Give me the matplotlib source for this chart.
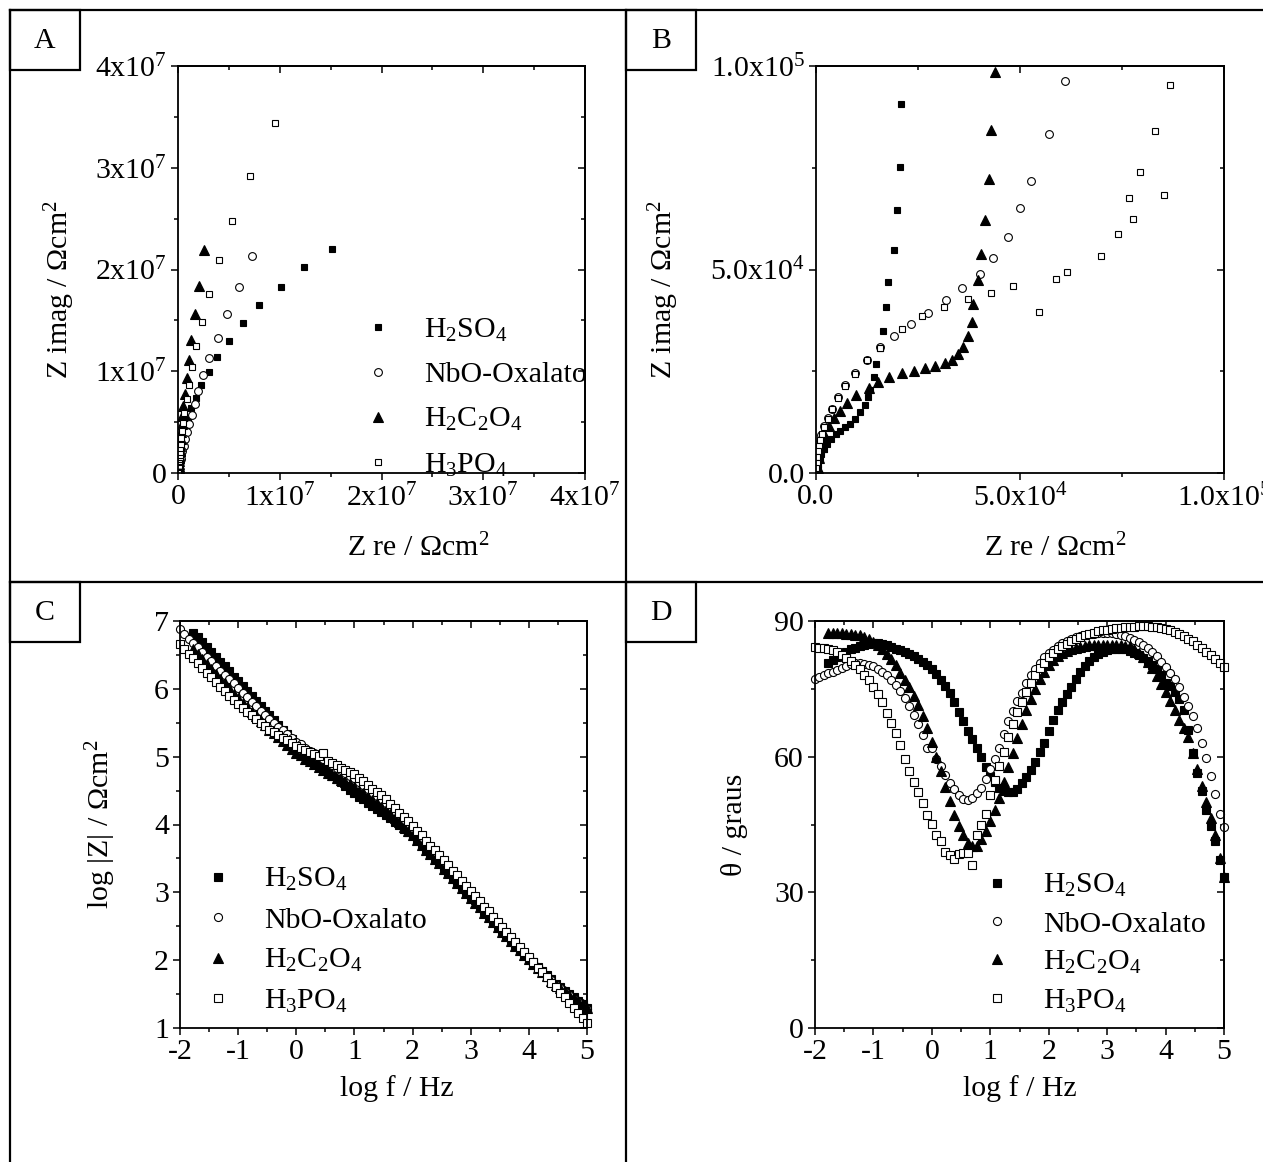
import matplotlib
matplotlib.use("Agg")
import matplotlib.pyplot as plt
from matplotlib.lines import Line2D
from matplotlib.patches import Rectangle
from matplotlib.ticker import MultipleLocator, FuncFormatter

plt.rcParams['font.family'] = ['Liberation Serif', 'DejaVu Serif']
plt.rcParams['mathtext.fontset'] = 'custom'
plt.rcParams['mathtext.rm'] = 'Liberation Serif'
plt.rcParams['mathtext.it'] = 'Liberation Serif:italic'
plt.rcParams['mathtext.bf'] = 'Liberation Serif:bold'
plt.rcParams['mathtext.default'] = 'regular'
plt.rcParams['axes.unicode_minus'] = False

# ---------------- data ----------------
labels = ["H$_2$SO$_4$", "NbO-Oxalato", "H$_2$C$_2$O$_4$", "H$_3$PO$_4$"]

# Nyquist data (Ohm cm^2): large values (panel A) followed by small values (panel B)
h2so4_zre = [1.51e7, 1.238e7, 1.01e7, 0.797e7, 0.637e7, 0.497e7, 0.385e7, 0.30e7, 0.225e7, 0.173e7,
             0.131e7, 0.098e7, 0.072e7, 0.053e7, 0.039e7, 0.029e7, 0.021e7, 0.015e7, 0.011e7, 0.008e7,
             0.006e7, 0.0045e7, 0.0035e7, 0.003e7, 0.0027e7, 0.0025e7,
             2.09e4, 2.05e4, 1.98e4, 1.90e4, 1.77e4, 1.71e4, 1.63e4, 1.57e4, 1.48e4, 1.41e4, 1.33e4, 1.27e4,
             1.20e4, 1.08e4, 0.96e4, 0.84e4, 0.72e4, 0.60e4, 0.48e4, 0.37e4, 0.27e4, 0.19e4, 0.13e4, 0.09e4,
             0.06e4, 0.04e4, 0.03e4]
h2so4_zim = [2.20e7, 2.02e7, 1.83e7, 1.65e7, 1.47e7, 1.295e7, 1.14e7, 0.99e7, 0.861e7, 0.74e7,
             0.634e7, 0.545e7, 0.46e7, 0.385e7, 0.32e7, 0.26e7, 0.21e7, 0.165e7, 0.13e7, 0.10e7,
             0.075e7, 0.055e7, 0.04e7, 0.028e7, 0.019e7, 0.013e7,
             9.06e4, 7.53e4, 6.46e4, 5.49e4, 4.70e4, 4.07e4, 3.50e4, 3.07e4, 2.68e4, 2.36e4, 2.05e4, 1.86e4,
             1.68e4, 1.49e4, 1.33e4, 1.21e4, 1.12e4, 1.03e4, 0.95e4, 0.84e4, 0.72e4, 0.59e4, 0.46e4, 0.34e4,
             0.22e4, 0.11e4, 0.04e4]

nbo_zre = [0.729e7, 0.60e7, 0.483e7, 0.389e7, 0.307e7, 0.248e7, 0.199e7, 0.163e7, 0.134e7, 0.111e7,
           0.09e7, 0.07e7, 0.055e7, 0.043e7, 0.033e7, 0.025e7, 0.019e7, 0.014e7, 0.010e7, 0.008e7,
           0.0065e7,
           6.11e4, 5.72e4, 5.28e4, 5.00e4, 4.71e4, 4.34e4, 4.02e4, 3.58e4, 3.18e4, 2.75e4, 2.33e4, 1.92e4,
           1.58e4, 1.25e4, 0.95e4, 0.70e4, 0.53e4, 0.39e4, 0.29e4, 0.20e4, 0.13e4, 0.08e4, 0.05e4, 0.025e4,
           0.01e4]
nbo_zim = [2.13e7, 1.825e7, 1.564e7, 1.33e7, 1.13e7, 0.96e7, 0.81e7, 0.683e7, 0.571e7, 0.478e7,
           0.40e7, 0.33e7, 0.27e7, 0.22e7, 0.175e7, 0.14e7, 0.11e7, 0.085e7, 0.065e7, 0.048e7,
           0.035e7,
           9.63e4, 8.34e4, 7.17e4, 6.51e4, 5.80e4, 5.29e4, 4.88e4, 4.55e4, 4.24e4, 3.94e4, 3.65e4, 3.36e4,
           3.09e4, 2.78e4, 2.455e4, 2.15e4, 1.86e4, 1.58e4, 1.35e4, 1.15e4, 0.94e4, 0.74e4, 0.53e4, 0.33e4,
           0.16e4]

h2c2o4_zre = [0.258e7, 0.206e7, 0.163e7, 0.131e7, 0.105e7, 0.085e7, 0.069e7, 0.052e7, 0.042e7, 0.036e7,
              0.030e7, 0.025e7, 0.020e7, 0.016e7, 0.013e7, 0.011e7, 0.009e7, 0.0075e7, 0.0065e7, 0.006e7,
              0.0055e7, 0.005e7,
              4.376e4, 4.286e4, 4.245e4, 4.13e4, 4.05e4, 3.98e4, 3.85e4, 3.82e4, 3.72e4, 3.61e4, 3.49e4,
              3.33e4, 3.16e4, 2.92e4, 2.67e4, 2.41e4, 2.12e4, 1.80e4, 1.51e4, 1.29e4, 0.99e4, 0.76e4,
              0.60e4, 0.45e4, 0.33e4, 0.23e4, 0.15e4, 0.08e4, 0.04e4]
h2c2o4_zim = [2.19e7, 1.84e7, 1.56e7, 1.31e7, 1.11e7, 0.93e7, 0.78e7, 0.66e7, 0.56e7, 0.48e7,
              0.40e7, 0.33e7, 0.27e7, 0.22e7, 0.18e7, 0.145e7, 0.115e7, 0.09e7, 0.07e7, 0.053e7,
              0.04e7, 0.03e7,
              9.86e4, 8.43e4, 7.226e4, 6.22e4, 5.38e4, 4.75e4, 4.15e4, 3.72e4, 3.37e4, 3.09e4, 2.92e4,
              2.78e4, 2.70e4, 2.635e4, 2.58e4, 2.51e4, 2.455e4, 2.36e4, 2.24e4, 2.09e4, 1.92e4, 1.72e4,
              1.53e4, 1.35e4, 1.15e4, 0.90e4, 0.65e4, 0.37e4, 0.12e4]

h3po4_zre = [0.951e7, 0.706e7, 0.53e7, 0.40e7, 0.30e7, 0.24e7, 0.176e7, 0.137e7, 0.108e7, 0.085e7,
             0.062e7, 0.046e7, 0.04e7, 0.033e7, 0.028e7, 0.024e7, 0.021e7, 0.018e7, 0.016e7, 0.014e7,
             0.013e7, 0.012e7, 0.011e7,
             8.68e4, 8.32e4, 7.95e4, 7.66e4, 8.52e4, 7.76e4, 7.39e4, 6.99e4, 6.14e4, 5.89e4, 5.46e4,
             4.83e4, 4.29e4, 3.72e4, 3.14e4, 2.60e4, 2.12e4, 1.58e4, 1.24e4, 0.95e4, 0.70e4, 0.53e4,
             0.38e4, 0.29e4, 0.20e4, 0.14e4, 0.11e4, 0.07e4, 0.05e4, 0.03e4, 0.02e4, 0.01e4]
h3po4_zim = [3.44e7, 2.92e7, 2.48e7, 2.09e7, 1.755e7, 1.485e7, 1.245e7, 1.04e7, 0.864e7, 0.726e7,
             0.594e7, 0.495e7, 0.41e7, 0.34e7, 0.28e7, 0.23e7, 0.185e7, 0.15e7, 0.12e7, 0.095e7,
             0.075e7, 0.058e7, 0.045e7,
             9.525e4, 8.40e4, 7.40e4, 6.76e4, 6.82e4, 6.24e4, 5.87e4, 5.32e4, 4.935e4, 4.76e4, 3.96e4,
             4.59e4, 4.43e4, 4.27e4, 4.09e4, 3.85e4, 3.55e4, 3.07e4, 2.77e4, 2.44e4, 2.13e4, 1.84e4,
             1.57e4, 1.33e4, 1.13e4, 0.97e4, 0.82e4, 0.67e4, 0.53e4, 0.39e4, 0.25e4, 0.12e4]

# Bode data: log f (Hz) grid
logf = [-2.000, -1.923, -1.846, -1.769, -1.692, -1.615, -1.538, -1.462, -1.385, -1.308, -1.231, -1.154, -1.077,
        -1.000, -0.923, -0.846, -0.769, -0.692, -0.615, -0.538, -0.462, -0.385, -0.308, -0.231, -0.154, -0.077,
        0.000, 0.077, 0.154, 0.231, 0.308, 0.385, 0.462, 0.538, 0.615, 0.692, 0.769, 0.846, 0.923,
        1.000, 1.077, 1.154, 1.231, 1.308, 1.385, 1.462, 1.538, 1.615, 1.692, 1.769, 1.846, 1.923,
        2.000, 2.077, 2.154, 2.231, 2.308, 2.385, 2.462, 2.538, 2.615, 2.692, 2.769, 2.846, 2.923,
        3.000, 3.077, 3.154, 3.231, 3.308, 3.385, 3.462, 3.538, 3.615, 3.692, 3.769, 3.846, 3.923,
        4.000, 4.077, 4.154, 4.231, 4.308, 4.385, 4.462, 4.538, 4.615, 4.692, 4.769, 4.846, 4.923,
        5.000]
logf_short = logf[3:]   # H2SO4 and H2C2O4 start at lower frequency index 3

# log |Z| (Ohm cm^2)
h2so4_logz = [6.83, 6.76, 6.69, 6.62, 6.54, 6.47, 6.40, 6.33, 6.26, 6.18,
              6.11, 6.04, 5.97, 5.89, 5.82, 5.75, 5.68, 5.61, 5.54, 5.47, 5.40, 5.33, 5.26,
              5.19, 5.13, 5.07, 5.01, 4.95, 4.89, 4.83, 4.77, 4.72, 4.67, 4.62, 4.57, 4.51,
              4.46, 4.41, 4.37, 4.32, 4.28, 4.23, 4.18, 4.14, 4.09, 4.04, 3.99, 3.94, 3.89,
              3.84, 3.77, 3.71, 3.64, 3.58, 3.51, 3.44, 3.38, 3.30, 3.23, 3.16, 3.09, 3.02,
              2.95, 2.88, 2.81, 2.73, 2.66, 2.59, 2.52, 2.45, 2.38, 2.31, 2.24, 2.17, 2.10,
              2.03, 1.97, 1.90, 1.84, 1.78, 1.72, 1.65, 1.60, 1.55, 1.50, 1.45, 1.40, 1.35,
              1.30]
nbo_logz = [6.88, 6.81, 6.74, 6.68, 6.61, 6.54, 6.47, 6.41, 6.34, 6.27, 6.21, 6.14, 6.08,
            6.01, 5.94, 5.88, 5.81, 5.75, 5.68, 5.61, 5.55, 5.50, 5.44, 5.39, 5.33, 5.28,
            5.22, 5.18, 5.13, 5.09, 5.05, 5.01, 4.96, 4.92, 4.88, 4.84, 4.80, 4.76, 4.72,
            4.68, 4.63, 4.58, 4.52, 4.47, 4.42, 4.37, 4.31, 4.24, 4.18, 4.11, 4.05, 3.99,
            3.92, 3.85, 3.78, 3.70, 3.63, 3.56, 3.49, 3.41, 3.34, 3.27, 3.19, 3.12, 3.04,
            2.97, 2.90, 2.82, 2.75, 2.68, 2.60, 2.53, 2.46, 2.38, 2.31, 2.24, 2.17, 2.10,
            2.03, 1.97, 1.90, 1.84, 1.77, 1.71, 1.64, 1.59, 1.53, 1.48, 1.43, 1.38, 1.33,
            1.28]
h2c2o4_logz = [6.58, 6.51, 6.44, 6.37, 6.29, 6.22, 6.15, 6.08, 6.01, 5.93,
               5.86, 5.79, 5.73, 5.66, 5.60, 5.53, 5.46, 5.40, 5.35, 5.29, 5.23, 5.17, 5.12,
               5.06, 5.02, 4.97, 4.93, 4.89, 4.85, 4.80, 4.76, 4.73, 4.69, 4.66, 4.62, 4.59,
               4.55, 4.50, 4.46, 4.41, 4.36, 4.31, 4.26, 4.21, 4.15, 4.09, 4.03, 3.96, 3.90,
               3.84, 3.77, 3.70, 3.63, 3.56, 3.49, 3.43, 3.35, 3.28, 3.21, 3.14, 3.07, 2.99,
               2.92, 2.85, 2.78, 2.70, 2.63, 2.56, 2.49, 2.42, 2.35, 2.28, 2.21, 2.15, 2.08,
               2.01, 1.95, 1.89, 1.83, 1.76, 1.70, 1.64, 1.59, 1.54, 1.49, 1.44, 1.40, 1.35,
               1.30]
h3po4_logz = [6.66, 6.59, 6.52, 6.45, 6.38, 6.31, 6.24, 6.17, 6.10, 6.03, 5.97, 5.90, 5.84,
              5.77, 5.72, 5.66, 5.61, 5.56, 5.50, 5.45, 5.40, 5.36, 5.32, 5.28, 5.24, 5.20,
              5.16, 5.13, 5.10, 5.07, 5.04, 5.01, 5.06, 4.94, 4.91, 4.88, 4.84, 4.81, 4.77,
              4.74, 4.69, 4.64, 4.58, 4.53, 4.48, 4.43, 4.37, 4.30, 4.24, 4.17, 4.11, 4.05,
              3.98, 3.91, 3.84, 3.76, 3.69, 3.62, 3.55, 3.47, 3.40, 3.32, 3.25, 3.17, 3.10,
              3.02, 2.95, 2.87, 2.79, 2.72, 2.64, 2.57, 2.49, 2.42, 2.34, 2.27, 2.19, 2.12,
              2.04, 1.97, 1.89, 1.82, 1.75, 1.67, 1.60, 1.52, 1.45, 1.37, 1.30, 1.22, 1.15,
              1.07]

# phase angle (degrees)
h2so4_theta = [80.8, 81.4, 82.1, 82.7, 83.2, 83.7, 84.1, 84.5, 84.8, 85.0,
               85.1, 85.1, 84.9, 84.7, 84.3, 83.9, 83.5, 83.1, 82.6, 82.2, 81.7, 80.9, 80.3,
               79.3, 78.2, 77.0, 75.6, 74.0, 72.1, 69.9, 67.9, 65.7, 63.8, 61.9, 59.9, 57.8,
               55.8, 54.3, 53.1, 52.4, 52.1, 52.2, 52.9, 54.1, 55.4, 57.0, 58.9, 61.0, 63.1,
               65.6, 68.2, 70.3, 72.1, 73.8, 75.5, 77.1, 78.7, 80.1, 81.2, 82.0, 82.6, 83.1,
               83.5, 83.8, 83.9, 83.9, 83.7, 83.4, 83.0, 82.5, 81.9, 81.2, 80.3, 79.3, 78.0,
               76.4, 75.6, 74.4, 72.8, 70.4, 66.0, 60.8, 56.4, 52.5, 48.3, 44.6, 41.4, 37.2,
               33.5]
nbo_theta = [77.1, 77.7, 78.1, 78.4, 78.8, 79.2, 79.6, 80.0, 80.4, 80.7, 80.7, 80.6, 80.3,
             80.0, 79.4, 78.8, 78.0, 77.0, 75.9, 74.6, 73.0, 71.3, 69.2, 67.3, 64.8, 62.0,
             62.0, 59.4, 57.9, 55.9, 54.2, 52.8, 51.5, 50.6, 50.4, 50.8, 52.0, 53.1, 55.1,
             57.2, 59.5, 62.0, 65.0, 67.9, 70.2, 72.3, 74.0, 76.3, 78.0, 79.4, 80.8, 82.0,
             83.0, 83.6, 84.4, 85.1, 85.6, 86.0, 86.4, 86.7, 86.9, 87.1, 87.2, 87.3, 87.3,
             87.3, 87.3, 87.2, 87.0, 86.7, 86.3, 85.8, 85.3, 84.7, 84.0, 83.2, 82.2, 81.0,
             79.8, 78.6, 77.2, 75.4, 73.3, 71.2, 68.9, 66.4, 63.1, 59.6, 55.8, 51.8, 47.4,
             44.5]
h2c2o4_theta = [87.4, 87.4, 87.3, 87.3, 87.2, 87.1, 87.0, 86.8, 86.5, 86.0,
                85.4, 84.7, 83.8, 82.8, 81.6, 80.2, 78.6, 77.0, 75.4, 73.5, 71.4, 69.0, 66.3,
                63.2, 59.9, 56.8, 53.3, 50.2, 47.2, 44.7, 42.6, 40.9, 40.2, 40.3, 41.7, 43.6,
                45.7, 48.2, 50.9, 54.5, 57.8, 60.8, 64.2, 67.3, 70.3, 72.7, 75.0, 77.1, 78.8,
                80.3, 81.3, 82.2, 82.9, 83.4, 83.8, 84.1, 84.3, 84.5, 84.6, 84.7, 84.7, 84.7,
                84.8, 84.8, 84.7, 84.6, 84.4, 84.4, 83.8, 83.0, 82.1, 80.9, 79.5, 77.9, 76.1,
                74.2, 72.3, 70.3, 68.2, 66.4, 64.4, 60.8, 57.2, 53.6, 50.0, 46.4, 42.6, 37.5,
                33.5]
h3po4_theta = [84.2, 84.1, 84.0, 83.8, 83.5, 83.1, 82.5, 81.9, 81.1, 80.3, 79.3, 78.1, 76.9,
               75.5, 73.8, 72.0, 69.7, 67.5, 65.2, 62.5, 59.4, 56.8, 54.3, 52.1, 49.8, 47.2,
               45.1, 42.7, 41.3, 39.0, 38.3, 37.4, 38.4, 38.7, 38.8, 36.0, 42.6, 45.0, 47.4,
               51.5, 54.9, 58.0, 61.1, 64.4, 67.3, 69.9, 72.0, 74.3, 76.2, 78.0, 79.5, 80.8,
               82.0, 82.9, 83.7, 84.4, 85.0, 85.5, 86.0, 86.4, 86.8, 87.1, 87.4, 87.7, 87.9,
               88.1, 88.3, 88.4, 88.5, 88.6, 88.7, 88.7, 88.8, 88.8, 88.8, 88.7, 88.6, 88.4,
               88.2, 87.9, 87.6, 87.2, 86.7, 86.1, 85.5, 84.8, 84.0, 83.2, 82.4, 81.5, 80.7,
               79.8]

# ---------------- figure ----------------
W, H = 1263, 1162
fig = plt.figure(figsize=(W / 100, H / 100), dpi=100)
FS = 21.5


def rect(l, t, r, b):
    return [l / W, 1 - b / H, (r - l) / W, (b - t) / H]


axA = fig.add_axes(rect(178, 66, 585, 473))
axB = fig.add_axes(rect(816, 66, 1224, 473))
axC = fig.add_axes(rect(180, 621, 587, 1028))
axD = fig.add_axes(rect(815, 621, 1224, 1028))

styles = [dict(marker='s', mfc='black', mec='black', ms=5.0),
          dict(marker='o', mfc='white', mec='black', ms=5.6),
          dict(marker='^', mfc='black', mec='black', ms=7.6),
          dict(marker='s', mfc='white', mec='black', ms=5.0)]

nyq = [(h2so4_zre, h2so4_zim), (nbo_zre, nbo_zim), (h2c2o4_zre, h2c2o4_zim), (h3po4_zre, h3po4_zim)]
bode_x = [logf_short, logf, logf_short, logf]
bode_z = [h2so4_logz, nbo_logz, h2c2o4_logz, h3po4_logz]
bode_t = [h2so4_theta, nbo_theta, h2c2o4_theta, h3po4_theta]

hA, hC, hD = [], [], []
for i in range(4):
    st = dict(styles[i])
    hA.append(axA.plot(nyq[i][0], nyq[i][1], ls='none', mew=0.8, **st)[0])
    axB.plot(nyq[i][0], nyq[i][1], ls='none', mew=0.8, **st)
    if i == 2:
        st['ms'] = 6.6
    else:
        st['ms'] = st['ms'] + 0.2
    hC.append(axC.plot(bode_x[i], bode_z[i], ls='none', mew=0.8, clip_on=False, **st)[0])
    hD.append(axD.plot(bode_x[i], bode_t[i], ls='none', mew=0.8, clip_on=False, **st)[0])


def fmt_A(v, p):
    if abs(v) < 1:
        return '0'
    return '%dx10$^{7}$' % int(round(v / 1e7))


def fmt_B(v, p):
    if abs(v) < 1:
        return '0.0'
    if abs(v - 5e4) < 1:
        return '5.0x10$^{4}$'
    return '1.0x10$^{5}$'


axA.set_xlim(0, 4e7); axA.set_ylim(0, 4e7)
for a in (axA.xaxis, axA.yaxis):
    a.set_major_locator(MultipleLocator(1e7)); a.set_minor_locator(MultipleLocator(0.5e7))
    a.set_major_formatter(FuncFormatter(fmt_A))
axB.set_xlim(0, 1e5); axB.set_ylim(0, 1e5)
for a in (axB.xaxis, axB.yaxis):
    a.set_major_locator(MultipleLocator(5e4)); a.set_minor_locator(MultipleLocator(2.5e4))
    a.set_major_formatter(FuncFormatter(fmt_B))
axC.set_xlim(-2, 5); axC.set_ylim(1, 7)
axC.xaxis.set_major_locator(MultipleLocator(1)); axC.xaxis.set_minor_locator(MultipleLocator(0.5))
axC.yaxis.set_major_locator(MultipleLocator(1)); axC.yaxis.set_minor_locator(MultipleLocator(0.5))
axD.set_xlim(-2, 5); axD.set_ylim(0, 90)
axD.xaxis.set_major_locator(MultipleLocator(1)); axD.xaxis.set_minor_locator(MultipleLocator(0.5))
axD.yaxis.set_major_locator(MultipleLocator(30)); axD.yaxis.set_minor_locator(MultipleLocator(15))

for ax in (axA, axB, axC, axD):
    for s in ax.spines.values():
        s.set_linewidth(1.3)
    ax.tick_params(which='both', direction='out', width=1.1, labelsize=FS, pad=3,
                   top=False, right=False)
    ax.tick_params(which='major', length=5)
    ax.tick_params(which='minor', length=3)
    sec_x = ax.secondary_xaxis('top')
    sec_x.set_xticks(ax.get_xticks(minor=False))
    sec_x.tick_params(direction='in', length=5, width=1.1, labeltop=False)
    sec_x.set_xticks(ax.get_xticks(minor=True), minor=True)
    sec_x.tick_params(which='minor', direction='in', length=3, width=1.1)
    sec_x.spines['top'].set_linewidth(1.3)
    sec_y = ax.secondary_yaxis('right')
    sec_y.set_yticks(ax.get_yticks(minor=False))
    sec_y.tick_params(direction='in', length=5, width=1.1, labelright=False)
    sec_y.set_yticks(ax.get_yticks(minor=True), minor=True)
    sec_y.tick_params(which='minor', direction='in', length=3, width=1.1)
    sec_y.spines['right'].set_linewidth(1.3)

axA.set_xlabel('Z re / \u03a9cm$^{2}$', fontsize=FS)
axA.set_ylabel('Z imag / \u03a9cm$^{2}$', fontsize=FS)
axB.set_xlabel('Z re / \u03a9cm$^{2}$', fontsize=FS)
axB.set_ylabel('Z imag / \u03a9cm$^{2}$', fontsize=FS)
axC.set_xlabel('log f / Hz', fontsize=FS)
axC.set_ylabel('log |Z| / \u03a9cm$^{2}$', fontsize=FS)
axD.set_xlabel('log f / Hz', fontsize=FS)
axD.set_ylabel('\u03b8 / graus', fontsize=FS)

axA.xaxis.set_label_coords(0.59, -0.15)
axB.xaxis.set_label_coords(0.586, -0.15)
axC.xaxis.set_label_coords(0.533, -0.115)
axD.xaxis.set_label_coords(0.501, -0.115)
axA.yaxis.set_label_coords(-0.248, 0.45)
axB.yaxis.set_label_coords(-0.331, 0.45)
axC.yaxis.set_label_coords(-0.152, 0.5)
axD.yaxis.set_label_coords(-0.164, 0.5)

leg_kw = dict(loc='upper left', frameon=False, fontsize=FS, handlelength=1.0, handletextpad=1.05,
              borderaxespad=0, borderpad=0, numpoints=1)
axA.legend(hA, labels, bbox_to_anchor=(0.4545, 0.385), labelspacing=0.6, **leg_kw)
axC.legend(hC, labels, bbox_to_anchor=(0.0565, 0.398), labelspacing=0.45, **leg_kw)
axD.legend(hD, labels, bbox_to_anchor=(0.408, 0.383), labelspacing=0.38, **leg_kw)

# panel frame lines and letter boxes
def fline(x0, y0, x1, y1):
    fig.add_artist(Line2D([x0 / W, x1 / W], [1 - y0 / H, 1 - y1 / H], color='black', lw=1.6,
                          transform=fig.transFigure))

fline(10, 10, W, 10)
fline(10, 10, 10, H)
fline(626, 10, 626, H)
fline(10, 582, W, 582)

for (x0, y0, letter) in [(10, 10, 'A'), (626, 10, 'B'), (10, 582, 'C'), (626, 582, 'D')]:
    fig.add_artist(Rectangle((x0 / W, 1 - (y0 + 60) / H), 70 / W, 60 / H, fill=False,
                             ec='black', lw=1.6, transform=fig.transFigure))
    fig.text((x0 + 35) / W, 1 - (y0 + 31) / H, letter, fontsize=FS, ha='center', va='center')

fig.savefig('out.png', dpi=100)
